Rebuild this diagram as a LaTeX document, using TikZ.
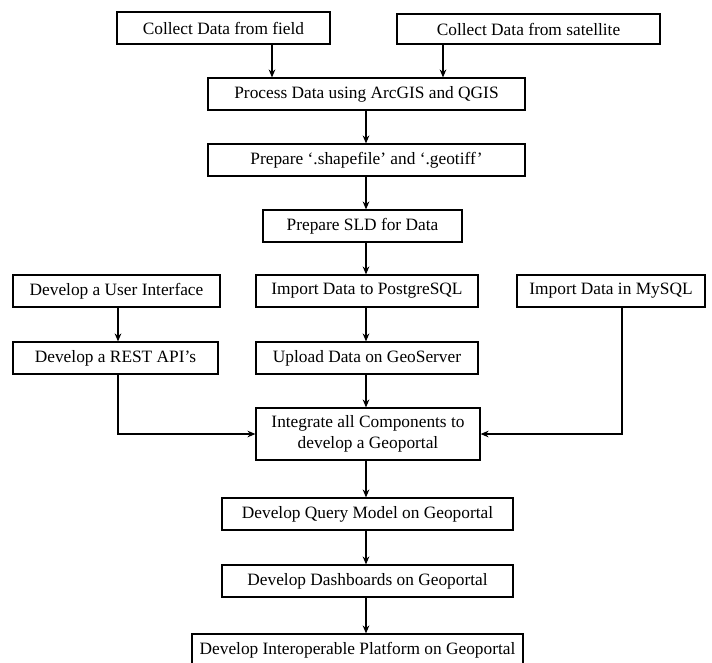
\documentclass[tikz,border=0pt]{standalone}
\usepackage{fontspec}
\setmainfont{Liberation Serif}
\usetikzlibrary{arrows.meta}
\begin{document}
\begin{tikzpicture}[x=0.75pt,y=-0.75pt,
  box/.style={draw, line width=0.9pt, inner sep=0pt, align=center,
    font=\fontsize{13}{15.5}\selectfont},
  arr/.style={-{Stealth[length=6pt,width=5pt]}, line width=0.8pt}]
\useasboundingbox (0,0) rectangle (712,662);
\clip (0,0) rectangle (712,662);
\node[box, minimum width={213*0.75pt}, minimum height={32*0.75pt}] (field) at (223.5,28) {Collect Data from field};
\node[box, minimum width={263*0.75pt}, minimum height={30*0.75pt}] (sat) at (528.5,29) {Collect Data from satellite};
\node[box, minimum width={317*0.75pt}, minimum height={32*0.75pt}] (proc) at (366.5,94) {Process Data using ArcGIS and QGIS};
\node[box, minimum width={317*0.75pt}, minimum height={32*0.75pt}] (shp) at (366.5,160) {Prepare `.shapefile' and `.geotiff'};
\node[box, minimum width={199*0.75pt}, minimum height={32*0.75pt}] (sld) at (362.5,226) {Prepare SLD for Data};
\node[box, minimum width={222*0.75pt}, minimum height={32*0.75pt}] (pg) at (367,291) {Import Data to PostgreSQL};
\node[box, minimum width={207*0.75pt}, minimum height={32*0.75pt}] (ui) at (116.5,291) {Develop a User Interface};
\node[box, minimum width={188*0.75pt}, minimum height={32*0.75pt}] (my) at (611,291) {Import Data in MySQL};
\node[box, minimum width={205*0.75pt}, minimum height={32*0.75pt}] (rest) at (115.5,358) {Develop a REST API's};
\node[box, minimum width={222*0.75pt}, minimum height={32*0.75pt}] (geo) at (367,358) {Upload Data on GeoServer};
\node[box, minimum width={224*0.75pt}, minimum height={52*0.75pt}] (int) at (368,434) {Integrate all Components to\\develop a Geoportal};
\node[box, minimum width={291*0.75pt}, minimum height={32*0.75pt}] (qm) at (367.5,514) {Develop Query Model on Geoportal};
\node[box, minimum width={291*0.75pt}, minimum height={32*0.75pt}] (db) at (367.5,581) {Develop Dashboards on Geoportal};
\node[box, minimum width={331*0.75pt}, minimum height={32*0.75pt}] (io) at (357.5,650) {Develop Interoperable Platform on Geoportal};
\coordinate (cf) at (272,0);
\coordinate (cs) at (443,0);
\coordinate (cm) at (366,0);
\coordinate (cl) at (118,0);
\coordinate (cr) at (622,0);
\draw[arr] (cf |- field.south) -- (cf |- proc.north);
\draw[arr] (cs |- sat.south) -- (cs |- proc.north);
\draw[arr] (cm |- proc.south) -- (cm |- shp.north);
\draw[arr] (cm |- shp.south) -- (cm |- sld.north);
\draw[arr] (cm |- sld.south) -- (cm |- pg.north);
\draw[arr] (cm |- pg.south) -- (cm |- geo.north);
\draw[arr] (cm |- geo.south) -- (cm |- int.north);
\draw[arr] (cl |- ui.south) -- (cl |- rest.north);
\draw[arr] (cl |- rest.south) |- (int.west);
\draw[arr] (cr |- my.south) |- (int.east);
\draw[arr] (cm |- int.south) -- (cm |- qm.north);
\draw[arr] (cm |- qm.south) -- (cm |- db.north);
\draw[arr] (cm |- db.south) -- (cm |- io.north);
\end{tikzpicture}
\end{document}
